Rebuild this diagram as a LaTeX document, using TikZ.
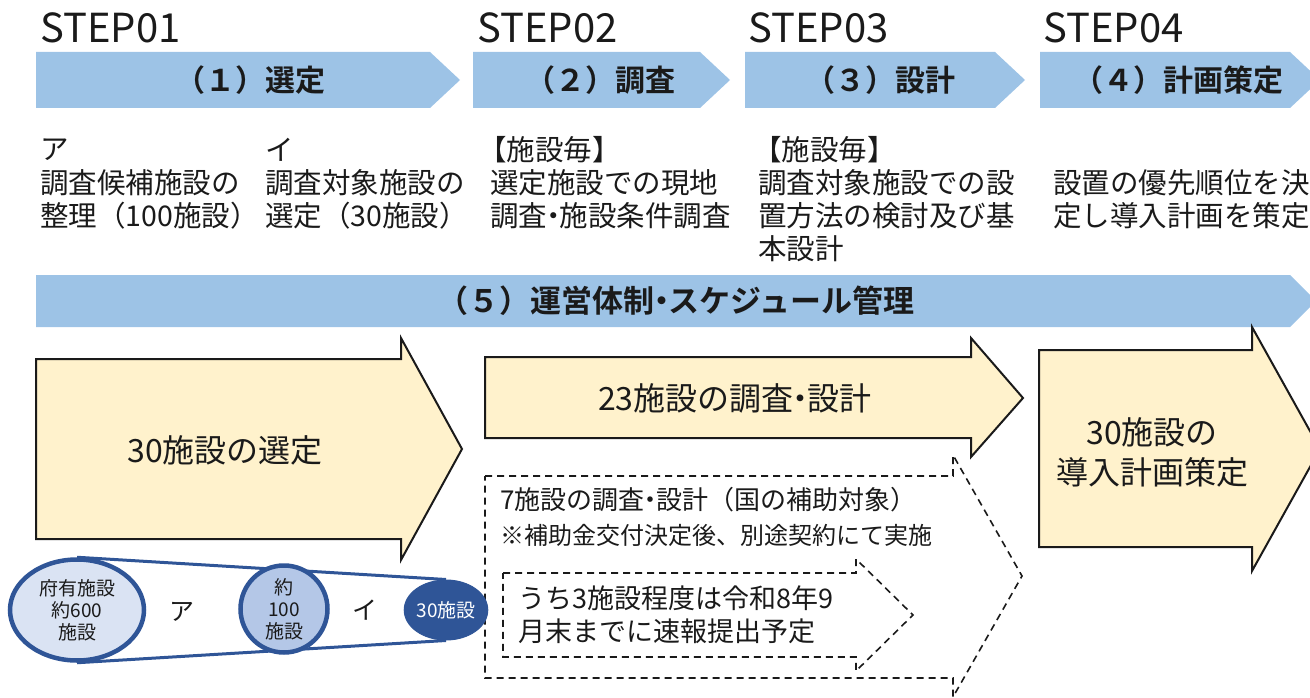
\documentclass[tikz,border=0pt]{standalone}
\usepackage{fontspec}
\setmainfont{Noto Sans CJK JP}[BoldFont={Noto Sans CJK JP Bold}]
\usetikzlibrary{shapes.geometric,backgrounds}
\definecolor{chev}{HTML}{9DC3E6}
\definecolor{pale}{HTML}{FFF2CC}
\definecolor{navy}{HTML}{2F5597}
\definecolor{lbA}{HTML}{DAE3F3}
\definecolor{lbB}{HTML}{B4C7E7}
\definecolor{ink}{HTML}{1A1A1A}
\newcommand{\ndot}{\kern-.28em・\kern-.28em}
\begin{document}
\begin{tikzpicture}[x=1pt,y=-1pt,
  steplbl/.style={anchor=base west,inner sep=0,text=ink,font=\fontsize{40}{40}\selectfont},
  chevtxt/.style={inner sep=0,text=ink,font=\bfseries\fontsize{30}{30}\selectfont},
  desc/.style={anchor=west,inner sep=0,text=ink,font=\fontsize{28.5}{28.5}\selectfont},
  bigtxt/.style={inner sep=0,text=ink,align=center,font=\fontsize{32}{40}\selectfont},
  dtxt/.style={anchor=west,inner sep=0,text=ink},
  chevfill/.style={fill=chev},
  yarrow/.style={fill=pale,draw=ink,line width=2pt,line join=miter},
  dsh/.style={draw=ink,line width=1.6pt,dash pattern=on 7pt off 5pt},
  funnel/.style={draw=navy,line width=3pt},
  ell/.style={ellipse,draw=navy,line width=4.5pt,inner sep=0,align=center,text=ink,font=\fontsize{19}{22}\selectfont}]
\useasboundingbox (0,0) rectangle (1310,698);
\clip (0,0) rectangle (1310,698);

% STEP labels
\node[steplbl] (s1) at (40,43) {STEP01};
\node[steplbl] (s2) at (477,43) {STEP02};
\node[steplbl] (s3) at (748,43) {STEP03};
\node[steplbl] (s4) at (1043,43) {STEP04};

% chevrons
\fill[chevfill] (36,52) -- (430,52) -- (460,80) -- (430,108) -- (36,108) -- cycle;
\fill[chevfill] (473,52) -- (700,52) -- (730,80) -- (700,108) -- (473,108) -- cycle;
\fill[chevfill] (745,52) -- (995,52) -- (1025,80) -- (995,108) -- (745,108) -- cycle;
\fill[chevfill] (1040,52) -- (1290,52) -- (1320,80) -- (1290,108) -- (1040,108) -- cycle;
\node[chevtxt] (c1) at (250,80) {（１）選定};
\node[chevtxt] (c2) at (600,80) {（２）調査};
\node[chevtxt] (c3) at (880,80) {（３）設計};
\node[chevtxt] (c4) at (1178,80) {（４）計画策定};

% descriptions
\node[desc] (d1a) at (40,150) {ア};
\node[desc] (d1b) at (40,183) {調査候補施設の};
\node[desc] (d1c) at (40,216) {整理（100施設）};
\node[desc] (d2a) at (265,150) {イ};
\node[desc] (d2b) at (265,183) {調査対象施設の};
\node[desc] (d2c) at (265,216) {選定（30施設）};
\node[desc] (d3a) at (478,150) {【施設毎】};
\node[desc] (d3b) at (490,183) {選定施設での現地};
\node[desc] (d3c) at (490,216) {調査\ndot 施設条件調査};
\node[desc] (d4a) at (753,150) {【施設毎】};
\node[desc] (d4b) at (758,183) {調査対象施設での設};
\node[desc] (d4c) at (758,216) {置方法の検討及び基};
\node[desc] (d4d) at (758,249) {本設計};
\node[desc] (d5b) at (1053,183) {設置の優先順位を決};
\node[desc] (d5c) at (1053,216) {定し導入計画を策定};

% band (5)
\fill[chevfill] (36,275) -- (1290,275) -- (1316,301) -- (1290,327) -- (36,327) -- cycle;
\node[chevtxt,font=\bfseries\fontsize{31}{31}\selectfont] (c5) at (676,301) {（５）運営体制\ndot スケジュール管理};

% arrow 1
\draw[yarrow] (36,359) -- (401,359) -- (401,338) -- (462,449) -- (401,560) -- (401,539) -- (36,539) -- cycle;
\node[bigtxt] (t1) at (225,450) {30施設の選定};

% arrow 2
\draw[yarrow] (485,357) -- (971,357) -- (971,338) -- (1023,398) -- (971,457) -- (971,438) -- (485,438) -- cycle;
\node[bigtxt] (t2) at (735,398) {23施設の調査\ndot 設計};

% arrow 4
\draw[yarrow] (1039,350) -- (1252,350) -- (1252,327) -- (1320,449) -- (1252,571) -- (1252,547) -- (1039,547) -- cycle;
\node[bigtxt] (t4) at (1152,452) {30施設の\\導入計画策定};

% dashed arrow
\draw[dsh] (485,476) -- (953,476) -- (953,455) -- (1022,576) -- (953,697) -- (953,678) -- (485,678) -- cycle;
\node[dtxt,font=\fontsize{26}{26}\selectfont] (dt1) at (500,500) {7施設の調査\ndot 設計（国の補助対象）};
\node[dtxt,font=\fontsize{24}{24}\selectfont] (dt2) at (500,535) {※補助金交付決定後、別途契約にて実施};

% inner dashed arrow
\draw[dsh] (503,573) -- (856,573) -- (856,559) -- (913,615) -- (856,671) -- (856,657) -- (503,657) -- cycle;
\node[dtxt,font=\fontsize{27}{33}\selectfont,align=left] (it) at (518,615) {うち3施設程度は令和8年9\\月末までに速報提出予定};

% funnel
\node[ell,fill=lbA,minimum width=134pt,minimum height=101pt] (e1) at (77,610) {府有施設\\約600\\施設};
\node[ell,fill=lbB,minimum width=87pt,minimum height=80pt] (e2) at (284,609) {約\\100\\施設};
\node[ell,fill=navy,text=white,minimum width=64pt,minimum height=60pt,line width=1pt] (e3) at (446,610) {30施設};
\begin{scope}[on background layer]
\draw[funnel] (e1.north) -- (e3.north);
\draw[funnel] (e1.south) -- (e3.south);
\end{scope}
\node[inner sep=0,text=ink,font=\fontsize{25}{25}\selectfont] (ka) at (182,612) {ア};
\node[inner sep=0,text=ink,font=\fontsize{25}{25}\selectfont] (ki) at (365,610) {イ};
\end{tikzpicture}
\end{document}
